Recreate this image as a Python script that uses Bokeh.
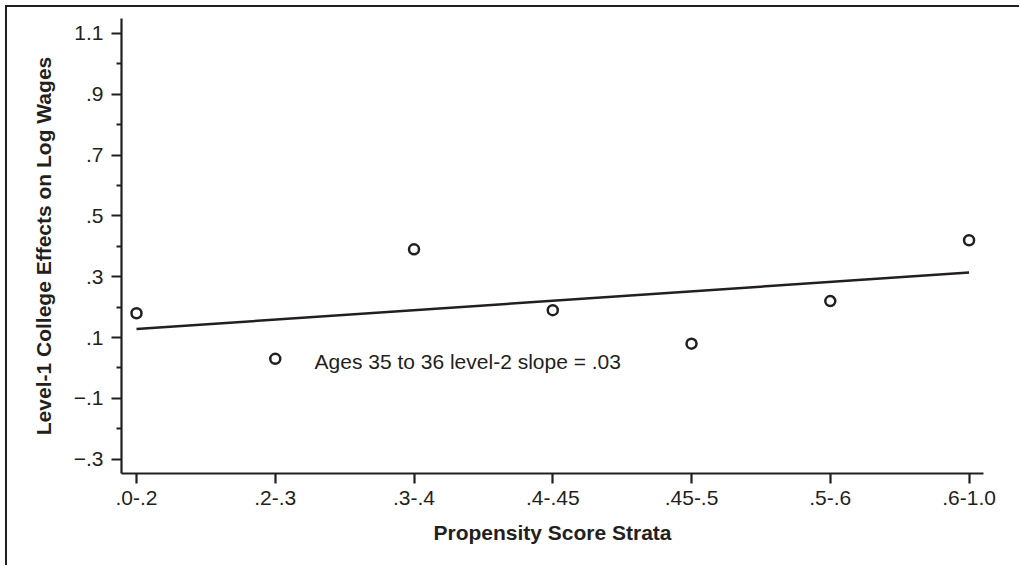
from bokeh.plotting import figure
from bokeh.models import FixedTicker, Range1d, Label
from bokeh.embed import file_html
from bokeh.resources import INLINE

# ---- data ----
strata = [".0-.2", ".2-.3", ".3-.4", ".4-.45", ".45-.5", ".5-.6", ".6-1.0"]
effects = [0.18, 0.03, 0.39, 0.19, 0.08, 0.22, 0.42]
fit_strata = [".0-.2", ".6-1.0"]
fit_effects = [0.128, 0.314]
y_ticks = [-0.3, -0.1, 0.1, 0.3, 0.5, 0.7, 0.9, 1.1]
y_tick_labels = ["\u2212.3", "\u2212.1", ".1", ".3", ".5", ".7", ".9", "1.1"]
y_minor_ticks = [-0.2, 0.0, 0.2, 0.4, 0.6, 0.8, 1.0]
annotation = "Ages 35 to 36 level-2 slope = .03"
x_title = "Propensity Score Strata"
y_title = "Level-1 College Effects on Log Wages"

INK = "#231f20"
FONT = "Liberation Sans"

idx = list(range(len(strata)))
fit_x = [strata.index(s) for s in fit_strata]

p = figure(
    frame_width=862, frame_height=455,
    min_border_left=114, min_border_right=36,
    min_border_top=11, min_border_bottom=92,
    x_range=Range1d(-0.108, 6.104), y_range=Range1d(-0.347, 1.149),
    output_backend="svg", toolbar_location=None,
)
p.styles = {"border-top": "2px solid " + INK, "border-left": "2px solid " + INK,
            "margin-top": "5px", "margin-left": "5px"}
p.grid.visible = False
p.outline_line_color = None
p.background_fill_color = "white"
p.border_fill_color = "white"

for ax in (p.xaxis[0], p.yaxis[0]):
    ax.axis_line_color = INK
    ax.axis_line_width = 2.2
    ax.major_tick_line_color = INK
    ax.major_tick_line_width = 2.2
    ax.minor_tick_line_color = INK
    ax.minor_tick_line_width = 2.2
    ax.major_tick_in = 0
    ax.major_tick_out = 10
    ax.minor_tick_in = 0
    ax.minor_tick_out = 5
    ax.major_label_text_font = FONT
    ax.major_label_text_font_size = "21px"
    ax.major_label_text_color = INK
    ax.axis_label_text_font = FONT
    ax.axis_label_text_font_size = "21px"
    ax.axis_label_text_font_style = "bold"
    ax.axis_label_text_color = INK

p.xaxis.ticker = FixedTicker(ticks=idx)
p.xaxis.major_label_overrides = {i: s for i, s in zip(idx, strata)}
p.xaxis.minor_tick_line_color = None
p.xaxis.major_label_standoff = 7
p.xaxis.axis_label = x_title
p.xaxis.axis_label_standoff = 13

p.yaxis.ticker = FixedTicker(ticks=y_ticks, minor_ticks=y_minor_ticks)
p.yaxis.major_label_overrides = dict(zip(y_ticks, y_tick_labels))
p.yaxis.major_label_standoff = 8
p.yaxis.axis_label = y_title
p.yaxis.axis_label_standoff = 16

p.line(fit_x, fit_effects, line_width=2.5, color=INK)
p.scatter(idx, effects, marker="circle", size=10, fill_color="white",
          line_color=INK, line_width=2.5)

p.add_layout(Label(x=1.283, y=0.022, text=annotation, text_font=FONT,
                   text_font_size="21px", text_baseline="alphabetic",
                   text_color=INK))

open("out.html", "w").write(file_html(p, INLINE))
